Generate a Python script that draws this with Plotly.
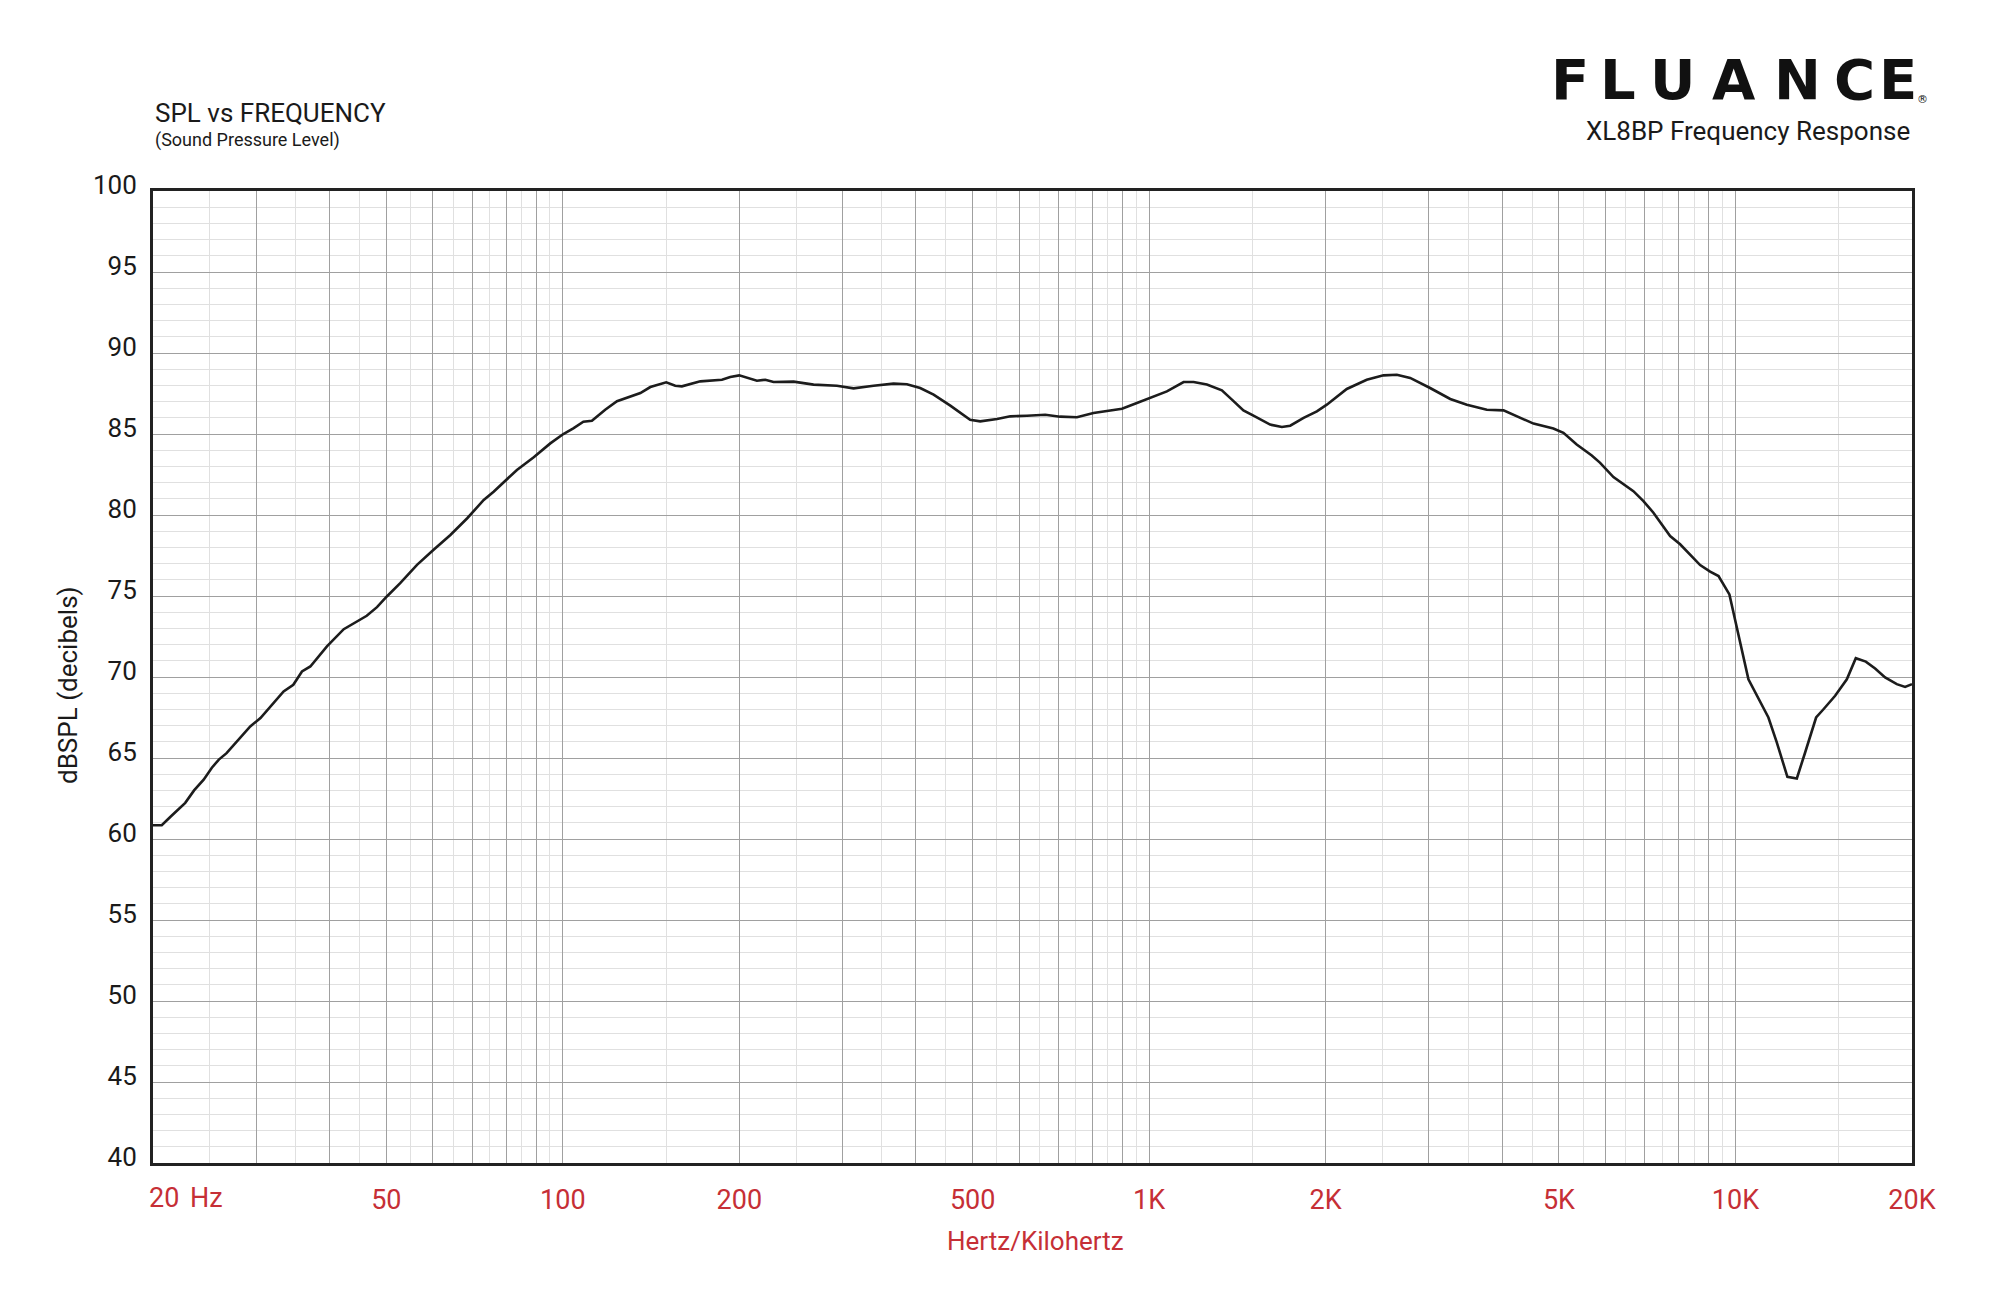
import plotly.graph_objects as go

# ---------------- data ----------------
freq_hz = [20, 20.7, 21.4, 22.0, 22.7, 23.5, 24.4, 25.2, 25.9, 26.7, 28.0, 29.3, 30.5, 31.9,
           33.4, 34.7, 35.9, 37.1, 39.6, 42.3, 44.0, 46.3, 48.2, 50.1, 52.8, 56.4, 60.2, 64.3,
           68.7, 73.3, 76.2, 79.8, 83.5, 89.2, 95.2, 100.2, 104.2, 108.4, 112.1, 118.1, 123.7,
           135.6, 141.0, 150.1, 155.5, 159.6, 171.6, 186.8, 193.0, 199.9, 206.1, 214.3, 221.5,
           228.8, 247.5, 267.7, 293.4, 313.2, 338.8, 366.4, 386.2, 406.9, 428.9, 458.0, 495.1,
           515.0, 550.2, 579.7, 618.9, 664.9, 705, 753, 803.6, 869.6, 898.9, 953, 1004, 1072,
           1144.7, 1190.6, 1254.3, 1330.5, 1384, 1448, 1506, 1608, 1684, 1740, 1834, 1932, 2009,
           2173, 2350, 2510, 2645, 2787, 3014, 3262, 3482, 3766, 4021, 4238, 4524, 4891, 5088,
           5360, 5687, 5877, 6192, 6697, 6966, 7245, 7736, 8046, 8704, 9052, 9355, 9764, 10521,
           11380, 11760, 12261, 12723, 13145, 13725, 14127, 14789, 15484, 16039, 16683, 17304,
           17995, 18840, 19466, 20000]
spl_db = [60.85, 60.85, 61.36, 61.77, 62.23, 63.0, 63.66, 64.4, 64.9, 65.3, 66.13, 66.95, 67.47,
          68.29, 69.11, 69.52, 70.34, 70.65, 71.89, 72.95, 73.32, 73.78, 74.31, 74.97, 75.79,
          76.92, 77.85, 78.77, 79.8, 80.93, 81.44, 82.12, 82.78, 83.56, 84.42, 85.0, 85.35,
          85.76, 85.82, 86.5, 87.02, 87.53, 87.9, 88.19, 87.98, 87.94, 88.25, 88.35, 88.52,
          88.62, 88.46, 88.29, 88.35, 88.21, 88.23, 88.05, 87.98, 87.82, 87.98, 88.11, 88.07,
          87.84, 87.43, 86.75, 85.88, 85.78, 85.93, 86.09, 86.13, 86.19, 86.07, 86.03, 86.3,
          86.5, 86.56, 86.91, 87.22, 87.63, 88.21, 88.21, 88.05, 87.7, 87.12, 86.46, 86.13,
          85.58, 85.43, 85.51, 85.99, 86.4, 86.81, 87.78, 88.35, 88.62, 88.66, 88.46, 87.84,
          87.16, 86.81, 86.5, 86.46, 86.1, 85.64, 85.34, 85.07, 84.35, 83.67, 83.22, 82.34,
          81.47, 80.86, 80.14, 78.7, 78.19, 76.91, 76.5, 76.23, 75.1, 69.86, 67.5, 65.96, 63.84,
          63.74, 65.34, 67.5, 68.01, 68.84, 69.86, 71.16, 70.95, 70.52, 69.97, 69.56, 69.39,
          69.56]

major_x = [20, 30, 40, 50, 60, 70, 80, 90, 100, 200, 300, 400, 500, 600, 700, 800, 900,
           1000, 2000, 3000, 4000, 5000, 6000, 7000, 8000, 9000, 10000, 20000]
# the first label ("20 Hz") is drawn beside the axis start, as in the original
labeled_x = {50: "50", 100: "100", 200: "200", 500: "500", 1000: "1K",
             2000: "2K", 5000: "5K", 10000: "10K", 20000: "20K"}
first_label = "20"
unit_label = "Hz"
minor_x = [25, 35, 45, 55, 65, 75, 85, 95, 150,
           250, 350, 450, 550, 650, 750, 850, 950, 1500,
           2500, 3500, 4500, 5500, 6500, 7500, 8500, 9500, 15000]
y_ticks = [40, 45, 50, 55, 60, 65, 70, 75, 80, 85, 90, 95, 100]

title_main = "SPL vs FREQUENCY"
title_sub = "(Sound Pressure Level)"
brand = "FLUANCE"
product_title = "XL8BP Frequency Response"
x_title = "Hertz/Kilohertz"
y_title = "dBSPL (decibels)"

# ---------------- layout helpers ----------------
OFF = 8                      # browser default body margin
W, H = 2000 - 2 * OFF, 1294 - 2 * OFF
L, R, T, B = 153, 1912, 191, 1163   # plot area in page pixels
RED = "#c62f36"
FONT = "Roboto, 'Open Sans', sans-serif"


def px(x):
    return (x - L) / (R - L)


def py(y):
    return (B - y) / (B - T)


fig = go.Figure()
fig.add_trace(go.Scatter(x=freq_hz, y=spl_db, mode="lines",
                         line=dict(color="#1c1c1c", width=2.6), hoverinfo="x+y",
                         showlegend=False))

fig.update_xaxes(
    type="log", range=[1.30103, 4.30103],
    tickmode="array", tickvals=major_x,
    ticktext=[labeled_x.get(v, "") for v in major_x],
    tickfont=dict(family=FONT, size=27, color=RED),
    ticks="", ticklabelstandoff=11,
    showgrid=True, gridcolor="#a0a0a0", gridwidth=1.4,
    minor=dict(tickvals=minor_x, showgrid=True, gridcolor="#e0e0e0", gridwidth=1, ticks=""),
    showline=True, linecolor="#222222", linewidth=3, mirror=True,
    zeroline=False,
)
fig.update_yaxes(
    range=[40, 100], tickmode="array", tickvals=y_ticks,
    tickfont=dict(family=FONT, size=26, color="#1a1a1a"),
    ticks="", ticklabelstandoff=8, ticklabelshift=-6,
    showgrid=True, gridcolor="#a0a0a0", gridwidth=1.4,
    minor=dict(dtick=1, showgrid=True, gridcolor="#e0e0e0", gridwidth=1, ticks=""),
    showline=True, linecolor="#222222", linewidth=3, mirror=True,
    zeroline=False,
)

ann = []
# titles top-left
ann.append(dict(text=title_main, x=px(L), y=py(130), xanchor="left", yanchor="bottom",
                font=dict(family=FONT, size=26, color="#1a1a1a")))
ann.append(dict(text=title_sub, x=px(L), y=py(153), xanchor="left", yanchor="bottom",
                font=dict(family=FONT, size=18, color="#1a1a1a")))
# brand letters
brand_centers = [1570, 1618, 1672, 1734, 1797, 1854, 1898]
for ch, cx in zip(brand, brand_centers):
    ann.append(dict(text=ch, x=px(cx), y=py(80), xanchor="center", yanchor="middle",
                    font=dict(family="DejaVu Sans", size=56, color="#111111", weight="bold")))
ann.append(dict(text="®", x=px(1922), y=py(99), xanchor="center", yanchor="middle",
                font=dict(family="DejaVu Sans", size=11, color="#111111")))
ann.append(dict(text=product_title, x=px(R), y=py(131), xanchor="right", yanchor="middle",
                font=dict(family=FONT, size=26, color="#1a1a1a")))
# first frequency label and unit beside the axis start
ann.append(dict(text=first_label, x=px(147), y=py(1198), xanchor="left", yanchor="middle",
                font=dict(family=FONT, size=27, color=RED)))
ann.append(dict(text=unit_label, x=px(188), y=py(1198), xanchor="left", yanchor="middle",
                font=dict(family=FONT, size=27, color=RED)))
# axis titles
ann.append(dict(text=x_title, x=px(1035), y=py(1241), xanchor="center", yanchor="middle",
                font=dict(family=FONT, size=26, color=RED)))
ann.append(dict(text=y_title, x=px(68), y=py(685), xanchor="center", yanchor="middle",
                textangle=-90, font=dict(family=FONT, size=26, color="#1a1a1a")))

for a in ann:
    a.update(xref="paper", yref="paper", showarrow=False)

fig.update_layout(
    width=W, height=H,
    margin=dict(l=L - OFF, r=(W + OFF) - R, t=T - OFF, b=(H + OFF) - B, pad=0),
    paper_bgcolor="white", plot_bgcolor="white",
    annotations=ann, showlegend=False,
    font=dict(family=FONT),
)

fig.write_html("out.html")
